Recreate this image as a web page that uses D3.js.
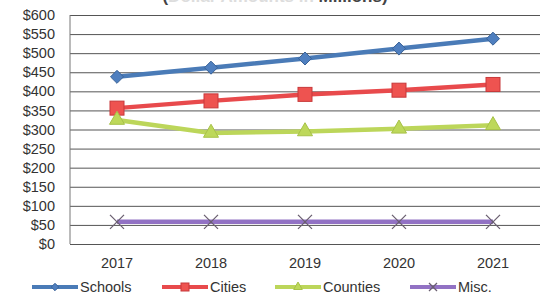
<!DOCTYPE html>
<html>
<head>
<meta charset="utf-8">
<script src="https://cdn.jsdelivr.net/npm/d3@7"></script>
<style>
  body { margin: 0; background: #fff; }
  svg { font-family: "Liberation Sans", Arial, sans-serif; }
  .axis text { fill: #333; font-size: 14.5px; }
  .y.axis .tick line { stroke: #555; stroke-width: 1; }
  .axis .domain { display: none; }
</style>
</head>
<body>
<script>
const years = ["2017", "2018", "2019", "2020", "2021"];
const schools = [438, 462, 486, 512, 538];
const cities = [356, 375, 392, 403, 418];
const counties = [325, 291, 295, 302, 311];
const misc = [58, 58, 58, 58, 58];
const seriesNames = ["Schools", "Cities", "Counties", "Misc."];
const yTicks = [0, 50, 100, 150, 200, 250, 300, 350, 400, 450, 500, 550, 600];

let width = 548, height = 298;
let plotLeft = 70, plotRight = 540, plotTop = 15, plotBottom = 244;

let svg = d3.select('body').append('svg')
            .attr('width', width)
            .attr('height', height);

let x = d3.scaleBand().domain(years).range([plotLeft, plotRight]);
let y = d3.scaleLinear().domain([0, 600]).range([plotBottom, plotTop]);
let cx = (d) => { return x(d) + x.bandwidth() / 2; };

// title, cut off at the top edge as in the scan
svg.append('text')
   .attr('x', 275).attr('y', 2)
   .attr('text-anchor', 'middle')
   .style('font-size', '17px').style('font-weight', 'bold')
   .html('<tspan fill="#444">(</tspan><tspan fill="#ddd">Dollar Amounts in </tspan><tspan fill="#444">Millions)</tspan>');

let yAxis = d3.axisLeft(y)
              .tickValues(yTicks)
              .tickSize(-(plotRight - plotLeft))
              .tickPadding(15)
              .tickFormat((d) => { return '$' + d; });

svg.append('g').attr('class', 'y axis')
   .attr('transform', 'translate(' + plotLeft + ',0)')
   .call(yAxis);

svg.append('line')
   .attr('x1', plotLeft).attr('x2', plotLeft)
   .attr('y1', plotTop).attr('y2', plotBottom)
   .attr('stroke', '#777');

let xAxis = d3.axisBottom(x).tickSize(0).tickPadding(14);
svg.append('g').attr('class', 'x axis')
   .attr('transform', 'translate(0,' + plotBottom + ')')
   .call(xAxis);

let series = [
  { name: seriesNames[0], values: schools, color: '#4a7bb7', marker: 'diamond', mfill: '#4f7fbf', mstroke: '#3a6398' },
  { name: seriesNames[1], values: cities, color: '#e84a4c', marker: 'square', mfill: '#ee5350', mstroke: '#c7393a' },
  { name: seriesNames[2], values: counties, color: '#bcd65a', marker: 'triangle', mfill: '#bdd85a', mstroke: '#a7c248' },
  { name: seriesNames[3], values: misc, color: '#9272c4', marker: 'x', mfill: 'none', mstroke: '#6a5f70' }
];

let line = d3.line()
             .x((d, i) => { return cx(years[i]); })
             .y((d) => { return y(d); });

function drawMarker(g, type, s, size) {
  if (type === 'diamond') {
    g.append('path').attr('d', d3.symbol(d3.symbolDiamond2, size * size * 0.55)())
     .attr('fill', s.mfill).attr('stroke', s.mstroke).attr('stroke-width', 1);
  } else if (type === 'square') {
    g.append('rect').attr('x', -size / 2).attr('y', -size / 2)
     .attr('width', size).attr('height', size)
     .attr('fill', s.mfill).attr('stroke', s.mstroke).attr('stroke-width', 1);
  } else if (type === 'triangle') {
    g.append('path').attr('d', d3.symbol(d3.symbolTriangle, size * size * 0.5)())
     .attr('fill', s.mfill).attr('stroke', s.mstroke).attr('stroke-width', 1);
  } else {
    let h = size / 2;
    g.append('path').attr('d', 'M' + (-h) + ',' + (-h) + 'L' + h + ',' + h + 'M' + (-h) + ',' + h + 'L' + h + ',' + (-h))
     .attr('stroke', s.mstroke).attr('stroke-width', 1.3).attr('fill', 'none');
  }
}

series.forEach((s) => {
  svg.append('path')
     .attr('d', line(s.values))
     .attr('fill', 'none')
     .attr('stroke', s.color)
     .attr('stroke-width', 4.5);

  svg.selectAll('g.m-' + s.marker)
     .data(s.values)
     .enter()
     .append('g')
     .attr('class', 'm-' + s.marker)
     .attr('transform', (d, i) => { return 'translate(' + cx(years[i]) + ',' + y(d) + ')'; })
     .each(function() { drawMarker(d3.select(this), s.marker, s, 14); });
});

// legend
let legendX = [32, 162, 275, 410];
let legend = svg.selectAll('g.legend')
                .data(series)
                .enter()
                .append('g')
                .attr('class', 'legend')
                .attr('transform', (d, i) => { return 'translate(' + legendX[i] + ',287)'; });

legend.append('line')
      .attr('x1', 0).attr('x2', 46)
      .attr('stroke', (d) => { return d.color; })
      .attr('stroke-width', 4);

legend.each(function(d) {
  let g = d3.select(this).append('g').attr('transform', 'translate(23,0)');
  drawMarker(g, d.marker, d, 8);
});

legend.append('text')
      .attr('x', 48).attr('y', 5)
      .style('font-size', '14.5px')
      .attr('fill', '#333')
      .text((d) => { return d.name; });
</script>
</body>
</html>
